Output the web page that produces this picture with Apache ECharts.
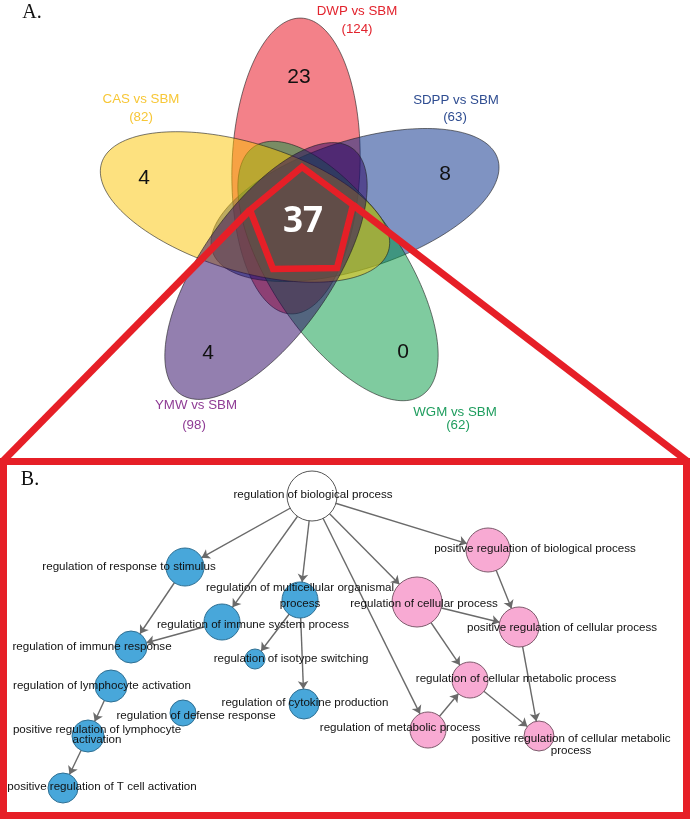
<!DOCTYPE html>
<html><head><meta charset="utf-8">
<script src="https://cdn.jsdelivr.net/npm/echarts@6/dist/echarts.min.js"></script>
<style>html,body{margin:0;padding:0;background:#fff}#c{width:690px;height:819px}</style>
</head><body><div id="c"></div>
<script>
// ================= DATA =================
// Panel A: Venn diagram of 5 comparisons
const setNames = ['DWP vs SBM', 'CAS vs SBM', 'SDPP vs SBM', 'YMW vs SBM', 'WGM vs SBM'];
const setTotals = [124, 82, 63, 98, 62];
const uniqueCounts = [23, 4, 8, 4, 0];
const sharedCount = 37;

// Panel B: GO term network
const goTerms = [
  'regulation of biological process',
  'regulation of response to stimulus',
  'regulation of multicellular organismal\nprocess',
  'regulation of immune system process',
  'positive regulation of biological process',
  'regulation of cellular process',
  'positive regulation of cellular process',
  'regulation of immune response',
  'regulation of isotype switching',
  'regulation of lymphocyte activation',
  'regulation of defense response',
  'regulation of cytokine production',
  'positive regulation of lymphocyte\nactivation',
  'positive regulation of T cell activation',
  'regulation of cellular metabolic process',
  'regulation of metabolic process',
  'positive regulation of cellular metabolic\nprocess'
];
const goGroup = ['root','immune','immune','immune','cellular','cellular','cellular','immune','immune','immune','immune','immune','immune','immune','cellular','cellular','cellular'];
const goLinks = [[0,1],[0,3],[0,2],[0,15],[0,5],[0,4],[1,7],[3,7],[2,8],[2,11],[9,12],[12,13],[5,6],[4,6],[5,14],[15,14],[14,16],[6,16]];

// ================= LAYOUT =================
const ellipseCenter = [[296,166],[245,207],[355,205],[266,271],[338,271]];
const ellipseAxes = [[148,64],[150,64],[150,64],[150,65],[150,66]];
const ellipseAngle = [92, 17, -18, 125, 56];
const drawOrder = [0, 2, 4, 1, 3];
const fillColors = ['rgba(232,4,20,0.5)','rgba(251,196,0,0.5)','rgba(0,40,133,0.5)','rgba(40,0,95,0.5)','rgba(0,152,63,0.5)'];
const labelColors = ['#e2232d','#f7c737','#2f4d91','#8f3c95','#1f9d5e'];
const setTitlePos = [[357,11],[141,99],[456,100],[196,405],[455,412]];
const setTotalPos = [[357,29],[141,117],[455,117],[194,425],[458,425]];
const uniquePos = [[299,77],[144,178],[445,174],[208,353],[403,352]];
const sharedPos = [303,222];
const panelTags = [['A.',32,13],['B.',30,480]];
const pentagon = [[302,167],[353,205],[337,268],[273,269],[250,210]];
const leftLink = [[250,210],[3,461]];
const rightLink = [[353,205],[687,461]];
const panelBox = [[3.5,461.5],[686.5,461.5],[686.5,815.5],[3.5,815.5]];

const nodePos = [[312,496],[185,567],[300,600],[222,622],[488,550],[417,602],[519,627],[131,647],[255,659],[111,686],[183,713],[304,704],[88,736],[63,788],[470,680],[428,730],[539,736]];
const nodeRadius = [25,19,18,18,22,25,20,16,10,16,13,15,16,15,18,18,15];
const labelPos = [[313,495],[129,567],[300,596],[253,625],[535,549],[424,604],[562,628],[92,647],[291,659],[102,686],[196,716],[305,703],[97,735],[102,787],[516,679],[400,728],[571,745]];
const labelLineHeight = [12,12,16,12,12,12,12,12,12,12,12,12,10,12,12,12,12];
const groupFill = {root:'#ffffff', immune:'#48a7da', cellular:'#f8aad3'};
const groupBorder = {root:'#555555', immune:'#2f6f92', cellular:'#7d5a6c'};

// ================= CHART =================
const chart = echarts.init(document.getElementById('c'), null, {renderer:'canvas'});

function ellipsePts(api, idx) {
  const [cx, cy] = ellipseCenter[idx];
  const [a, b] = ellipseAxes[idx];
  const th = ellipseAngle[idx] * Math.PI / 180, c = Math.cos(th), s = Math.sin(th);
  const pts = [];
  for (let k = 0; k < 160; k++) {
    const t = k / 160 * 2 * Math.PI;
    pts.push(api.coord([cx + a*c*Math.cos(t) - b*s*Math.sin(t), cy + a*s*Math.cos(t) + b*c*Math.sin(t)]));
  }
  return pts;
}

// Venn texts
const texts = [];
setNames.forEach((n, i) => {
  texts.push({p: setTitlePos[i], t: n, fill: labelColors[i], font: '13.3px "Liberation Sans", Arial, sans-serif'});
  texts.push({p: setTotalPos[i], t: '(' + setTotals[i] + ')', fill: labelColors[i], font: '13.3px "Liberation Sans", Arial, sans-serif'});
  texts.push({p: uniquePos[i], t: String(uniqueCounts[i]), fill: '#111', font: '21px "Liberation Sans", Arial, sans-serif'});
});
texts.push({p: sharedPos, t: String(sharedCount), fill: '#ffffff', font: 'bold 35px "Open Sans", sans-serif'});
panelTags.forEach(([t, x, y]) => texts.push({p: [x, y], t, fill: '#111', font: '20px "Liberation Serif", "Times New Roman", serif'}));

const redShapes = [
  {type: 'polygon', pts: pentagon, w: 6.5},
  {type: 'polyline', pts: leftLink, w: 7},
  {type: 'polyline', pts: rightLink, w: 7},
  {type: 'polygon', pts: panelBox, w: 7}
];

const option = {
  animation: false,
  grid: {left: 0, right: 0, top: 0, bottom: 0},
  xAxis: {type: 'value', min: 0, max: 690, show: false},
  yAxis: {type: 'value', min: 0, max: 819, inverse: true, show: false},
  series: [
    {
      type: 'custom', silent: true, z: 1,
      data: drawOrder.map(i => [ellipseCenter[i][0], ellipseCenter[i][1], i]),
      renderItem: (params, api) => {
        const i = drawOrder[params.dataIndex];
        return {type: 'polygon', shape: {points: ellipsePts(api, i)},
          style: {fill: fillColors[i], stroke: 'rgba(30,30,30,0.75)', lineWidth: 0.8}};
      }
    },
    {
      type: 'custom', silent: true, z: 3,
      data: texts.map((d, i) => [d.p[0], d.p[1], i]),
      renderItem: (params, api) => {
        const d = texts[params.dataIndex];
        const pt = api.coord(d.p);
        return {type: 'text', x: pt[0], y: pt[1],
          style: {text: d.t, fill: d.fill, font: d.font, align: 'center', verticalAlign: 'middle'}};
      }
    },
    {
      type: 'custom', silent: true, z: 4,
      data: redShapes.map((d, i) => [d.pts[0][0], d.pts[0][1], i]),
      renderItem: (params, api) => {
        const d = redShapes[params.dataIndex];
        return {type: d.type, shape: {points: d.pts.map(p => api.coord(p))},
          style: {fill: 'none', stroke: '#e61f27', lineWidth: d.w, lineJoin: 'miter'}};
      }
    },
    {
      type: 'graph', coordinateSystem: 'cartesian2d', xAxisIndex: 0, yAxisIndex: 0,
      silent: true, z: 5,
      data: goTerms.map((name, i) => ({
        name: name,
        value: nodePos[i],
        symbol: 'circle',
        symbolSize: nodeRadius[i] * 2,
        itemStyle: {color: groupFill[goGroup[i]], borderColor: groupBorder[goGroup[i]], borderWidth: 1},
        label: {show: true, position: 'inside', formatter: name, lineHeight: labelLineHeight[i],
          offset: [labelPos[i][0] - nodePos[i][0], labelPos[i][1] - nodePos[i][1]]}
      })),
      links: goLinks.map(([s, t]) => ({source: s, target: t})),
      edgeSymbol: ['none', 'arrow'],
      edgeSymbolSize: [0, 8],
      lineStyle: {color: '#6a6a6a', width: 1.4, opacity: 1, curveness: 0},
      label: {color: '#111', fontFamily: '"Liberation Sans", Arial, sans-serif', fontSize: 11.6, align: 'center'},
      emphasis: {disabled: true}
    }
  ]
};
chart.setOption(option);
</script></body></html>
